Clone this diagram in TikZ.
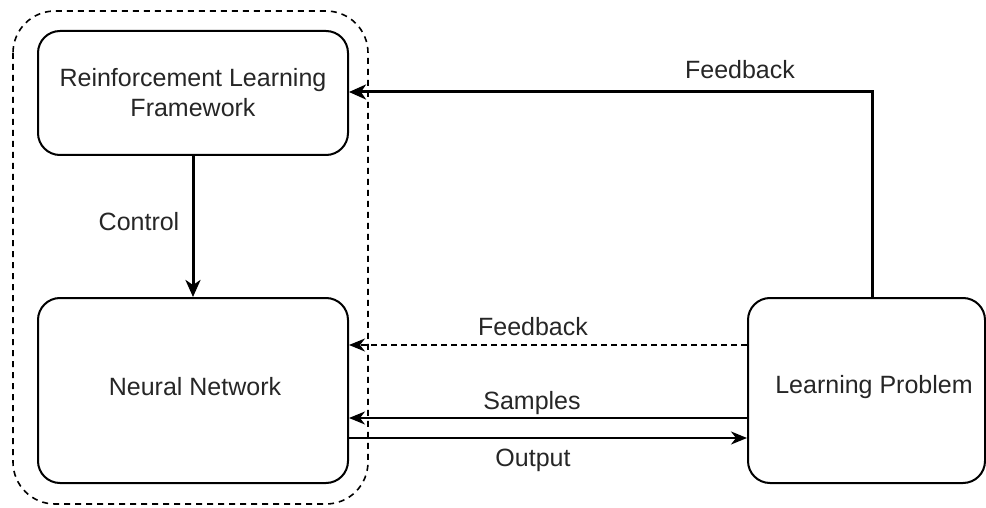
\documentclass[tikz,border=0pt]{standalone}
\usepackage{fontspec}
\setmainfont{Liberation Sans}
\usetikzlibrary{arrows.meta}
\begin{document}
\begin{tikzpicture}[x=1pt,y=-1pt,
  box/.style={draw=black,line width=2pt,rounded corners=22pt,fill=white},
  lbl/.style={font=\fontsize{25}{30}\selectfont,text=black!85,inner sep=0pt},
  thick arrow/.style={-{Stealth[length=17pt,width=15pt,inset=5pt]},line width=3pt},
  thin arrow/.style={-{Stealth[length=16pt,width=13pt,inset=5pt]},line width=2pt},
  group/.style={draw=black,line width=1.6pt,dash pattern=on 6pt off 5pt,rounded corners=42pt}]
\useasboundingbox (0,0) rectangle (986,508);
\draw[group] (13,11) rectangle (368,504);
\node[box,minimum width=310pt,minimum height=124pt] (rl) at (193,93) {};
\node[lbl,align=center] (rlt) at (193,93) {Reinforcement Learning\\Framework};
\node[box,minimum width=310pt,minimum height=185pt] (nn) at (193,390.5) {};
\node[lbl] (nnt) at (195,387) {Neural Network};
\node[box,minimum width=237pt,minimum height=185pt] (lp) at (866.5,390.5) {};
\node[lbl] (lpt) at (874,387) {Learning Problem};
\coordinate (corner) at (872,92);
\draw[thick arrow] (lp.north -| corner) -- (corner) -- (rl.east |- corner);
\node[lbl] (fb1) at (740,70) {Feedback};
\draw[thick arrow] (rl.south) -- (nn.north);
\node[lbl] (ctl) at (139,222) {Control};
\coordinate (yfb) at (0,345);
\coordinate (ysa) at (0,418);
\coordinate (yout) at (0,438);
\draw[thin arrow,dash pattern=on 6pt off 4pt] (lp.west |- yfb) -- (nn.east |- yfb);
\node[lbl] (fb2) at (533,327) {Feedback};
\draw[thin arrow] (lp.west |- ysa) -- (nn.east |- ysa);
\node[lbl] (smp) at (532,403) {Samples};
\draw[thin arrow] (nn.east |- yout) -- (lp.west |- yout);
\node[lbl] (out) at (533,460) {Output};
\end{tikzpicture}
\end{document}
